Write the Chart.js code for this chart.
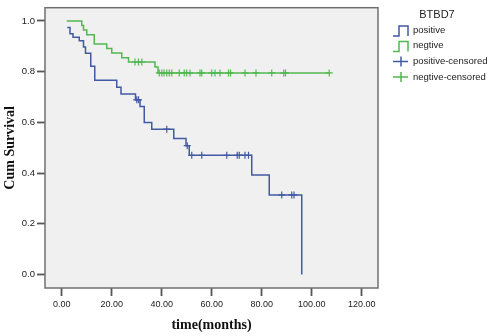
<!DOCTYPE html>
<html>
<head>
<meta charset="utf-8">
<script src="https://cdn.jsdelivr.net/npm/chart.js@4.4.1/dist/chart.umd.min.js"></script>
<style>
html, body { margin: 0; padding: 0; background: #fff; }
#wrap { width: 488px; height: 336px; position: relative; }
</style>
</head>
<body>
<div id="wrap"><canvas id="kmChart"></canvas></div>
<script>
// step points: time (months) where the curve drops, and survival after the drop
var posTimes = [2.2, 3.3, 4.5, 7, 8.7, 9.5, 11.6, 13.2, 22, 23.7, 29.5, 31.3, 33, 36, 44.8, 49.7, 51, 76, 83, 96];
var posSurv  = [0.974, 0.949, 0.936, 0.922, 0.897, 0.872, 0.821, 0.766, 0.738, 0.712, 0.689, 0.663, 0.599, 0.573, 0.536, 0.508, 0.470, 0.392, 0.314, 0];

var negTimes = [2, 8, 8.7, 10, 13, 18, 20, 24, 26.7, 37.3, 38.5, 107];
var negSurv  = [1.0, 0.982, 0.964, 0.945, 0.909, 0.891, 0.873, 0.855, 0.838, 0.818, 0.795, 0.795];

// censored times
var posCensored = [30, 30.7, 42, 50.2, 52, 56, 66, 70.2, 71, 73.3, 74.7, 88, 92, 92.9];
var negCensored = [29.3, 30.7, 32, 39, 40, 40.9, 42, 43, 44, 47, 49, 50, 51.3, 55.3, 56, 60, 61.3, 63.3, 66.7, 67.5, 73.3, 77.7, 84, 88.8, 89.5, 107];

var xTicks = [0, 20, 40, 60, 80, 100, 120];
var yTicks = [0, 0.2, 0.4, 0.6, 0.8, 1.0];

var legendTitle = 'BTBD7';
var legendLabels = ['positive', 'negtive', 'positive-censored', 'negtive-censored'];

var blue = '#4259a3';
var green = '#52b852';

function toPoints(times, surv){
    return times.map((t, i) => ({x: t, y: surv[i]}));
}

// survival value of a curve at a censoring time
function censorPoints(cens, times, surv){
    return cens.map(t => {
        var s = surv[0];
        for(var i = 0; i < times.length; i++){
            if(times[i] <= t) s = surv[i];
        }
        return {x: t, y: s};
    });
}

var plotFrame = {
    id: 'plotFrame',
    beforeDraw(chart){
        var a = chart.chartArea, ctx = chart.ctx;
        ctx.save();
        ctx.fillStyle = '#f0f0f0';
        ctx.fillRect(a.left, a.top, a.right - a.left, a.bottom - a.top);
        ctx.restore();
    },
    afterDraw(chart){
        var a = chart.chartArea, ctx = chart.ctx;
        ctx.save();
        ctx.strokeStyle = '#707070';
        ctx.lineWidth = 1.5;
        ctx.strokeRect(a.left, a.top, a.right - a.left, a.bottom - a.top);

        // legend
        ctx.fillStyle = '#222';
        ctx.textBaseline = 'middle';
        ctx.textAlign = 'center';
        ctx.font = '11px "Liberation Sans", Arial';
        ctx.fillText(legendTitle, 437, 15);
        var rows = [30, 45.5, 61.5, 77];
        var cols = [blue, green, blue, green];
        ctx.textAlign = 'left';
        ctx.font = '9.5px "Liberation Sans", Arial';
        rows.forEach((y, i) => {
            ctx.strokeStyle = cols[i];
            ctx.lineWidth = 1.5;
            ctx.beginPath();
            if(i < 2){
                ctx.moveTo(393, y + 6);
                ctx.lineTo(399, y + 6);
                ctx.lineTo(399, y - 4);
                ctx.lineTo(408, y - 4);
                ctx.lineTo(408, y + 6);
            } else {
                ctx.moveTo(393, y);
                ctx.lineTo(408, y);
                ctx.moveTo(401, y - 5);
                ctx.lineTo(401, y + 5);
            }
            ctx.stroke();
            ctx.fillText(legendLabels[i], 413, y);
        });
        ctx.restore();
    }
};

Chart.defaults.font.family = '"Liberation Sans", Arial';
Chart.defaults.color = '#222';

new Chart(document.getElementById('kmChart'), {
    type: 'scatter',
    data: {
        datasets: [{
            label: legendLabels[0],
            data: toPoints(posTimes, posSurv),
            showLine: true,
            stepped: true,
            borderColor: blue,
            borderWidth: 1.5,
            pointRadius: 0
        }, {
            label: legendLabels[1],
            data: toPoints(negTimes, negSurv),
            showLine: true,
            stepped: true,
            borderColor: green,
            borderWidth: 1.5,
            pointRadius: 0
        }, {
            label: legendLabels[2],
            data: censorPoints(posCensored, posTimes, posSurv),
            showLine: false,
            pointStyle: 'cross',
            pointRadius: 3.5,
            borderColor: blue,
            borderWidth: 1.2
        }, {
            label: legendLabels[3],
            data: censorPoints(negCensored, negTimes, negSurv),
            showLine: false,
            pointStyle: 'cross',
            pointRadius: 3.5,
            borderColor: green,
            borderWidth: 1.2
        }]
    },
    options: {
        responsive: true,
        maintainAspectRatio: false,
        animation: false,
        layout: { padding: { top: 3, right: 110, left: 0, bottom: 0 } },
        plugins: {
            legend: { display: false },
            tooltip: { enabled: false }
        },
        scales: {
            x: {
                type: 'linear',
                min: -6.7,
                max: 126.5,
                afterBuildTicks: scale => { scale.ticks = xTicks.map(v => ({value: v})); },
                afterFit: scale => { scale.height = 48; },
                border: { display: false },
                grid: { drawOnChartArea: false, tickLength: 8, tickColor: '#555', tickWidth: 1.8 },
                ticks: { padding: 3, font: { size: 9 }, callback: v => v.toFixed(2), maxRotation: 0 },
                title: {
                    display: true,
                    text: 'time(months)',
                    font: { family: '"Liberation Serif", "Times New Roman"', size: 14, weight: 'bold' },
                    color: '#111',
                    padding: { top: 2, bottom: 2 }
                }
            },
            y: {
                type: 'linear',
                min: -0.053,
                max: 1.052,
                afterBuildTicks: scale => { scale.ticks = yTicks.map(v => ({value: v})); },
                afterFit: scale => { scale.width = 45; },
                border: { display: false },
                grid: { drawOnChartArea: false, tickLength: 8, tickColor: '#555', tickWidth: 1.8 },
                ticks: { padding: 2, font: { size: 9.5 }, callback: v => v.toFixed(1) },
                title: {
                    display: true,
                    text: 'Cum Survival',
                    font: { family: '"Liberation Serif", "Times New Roman"', size: 14, weight: 'bold' },
                    color: '#111',
                    padding: { top: 2, bottom: 2 }
                }
            }
        }
    },
    plugins: [plotFrame]
});
</script>
</body>
</html>
